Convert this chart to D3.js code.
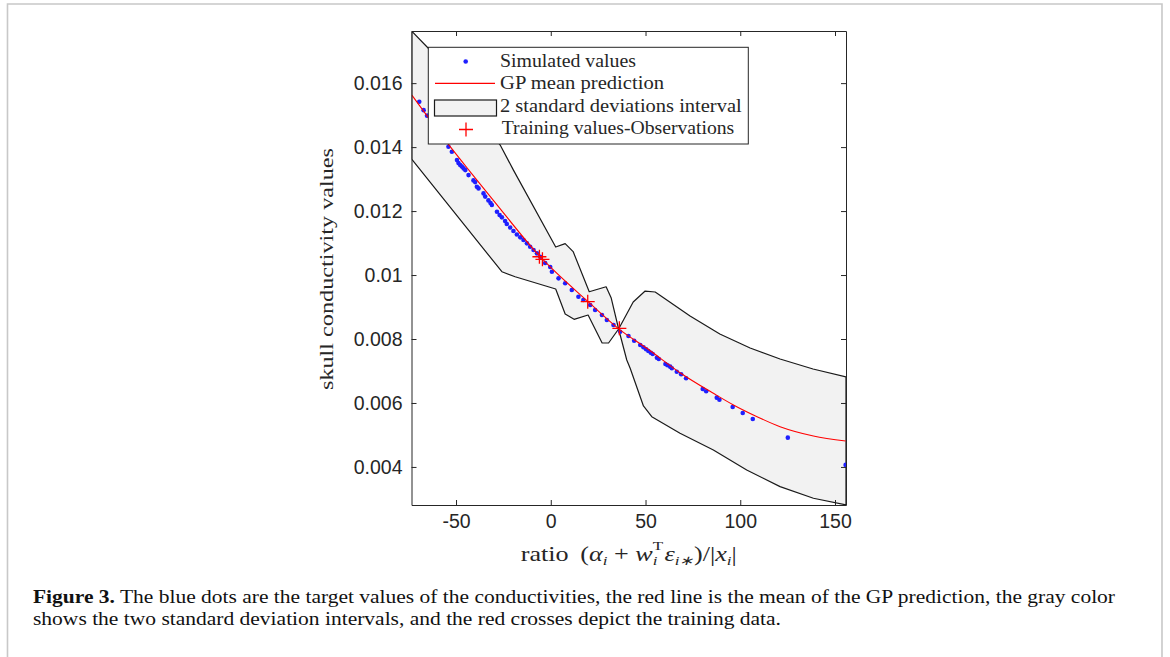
<!DOCTYPE html>
<html>
<head>
<meta charset="utf-8">
<script src="https://cdn.jsdelivr.net/npm/d3@7"></script>
<style>
  body { margin: 0; background: #fff; }
  svg { display: block; }
</style>
</head>
<body>
<div id="chart"></div>
<script>
// axis limits and ticks
const xLimits = [-73.5, 155.8];
const yLimits = [0.00281, 0.01763];
const xTicks = [-50, 0, 50, 100, 150];
const yTicks = [0.004, 0.006, 0.008, 0.01, 0.012, 0.014, 0.016];

// simulated values (blue dots) [ratio, conductivity]
const simulated = [
  [-69.4, 0.015416], [-67.1, 0.015156], [-65.3, 0.014984], [-54.0, 0.014009], [-52.2, 0.013853],
  [-49.5, 0.013594], [-48.7, 0.0135], [-47.8, 0.013438], [-46.9, 0.013391], [-46.0, 0.013334],
  [-45.1, 0.013281], [-43.4, 0.013125], [-40.8, 0.012959], [-39.9, 0.012906], [-39.0, 0.012759],
  [-38.1, 0.012709], [-35.5, 0.012553], [-34.6, 0.012453], [-32.9, 0.012334], [-31.8, 0.01225],
  [-31.1, 0.012188], [-28.4, 0.011978], [-27.0, 0.011875], [-25.8, 0.011803], [-24.1, 0.011688],
  [-23.2, 0.011594], [-21.4, 0.011484], [-19.7, 0.011375], [-17.9, 0.011266], [-16.1, 0.011178],
  [-14.4, 0.011094], [-12.6, 0.010991], [-10.9, 0.010884], [-9.1, 0.010781], [-7.3, 0.010678],
  [-5.6, 0.010572], [-2.95, 0.010375], [-0.3, 0.01025], [0.6, 0.010103], [4.1, 0.009897],
  [7.6, 0.009741], [11.1, 0.009531], [14.6, 0.009322], [17.2, 0.009219], [20.8, 0.009063],
  [23.4, 0.008906], [27.0, 0.00875], [29.6, 0.008594], [33.1, 0.008438], [36.6, 0.008229],
  [41.0, 0.008094], [44.0, 0.007947], [47.2, 0.007813], [48.9, 0.00774], [50.3, 0.007678],
  [51.5, 0.007625], [52.8, 0.007572], [53.8, 0.007531], [56.0, 0.007416], [57.0, 0.007375],
  [60.5, 0.007219], [61.6, 0.007178], [63.0, 0.007135], [63.9, 0.007084], [66.5, 0.006978],
  [68.8, 0.006897], [71.4, 0.006772], [80.2, 0.006438], [82.0, 0.006366], [87.6, 0.006166],
  [89.0, 0.006103], [96.0, 0.005875], [101.3, 0.005688], [106.6, 0.0055], [125.1, 0.004916],
  [155.6, 0.004063]
];

// GP mean prediction (red line)
const gpMean = [
  [-73.3, 0.015625], [-54.1, 0.014094], [-42.5, 0.013228], [-30.4, 0.012344], [-5.6, 0.010572],
  [19.7, 0.009166], [36.2, 0.008303], [50.7, 0.007709], [68.2, 0.006947], [85.8, 0.006303],
  [96.4, 0.005938], [106.9, 0.005625], [121.0, 0.005259], [138.6, 0.004969], [155.6, 0.004813]
];

// 2 standard deviation interval bounds
const upperBound = [
  [-73.4, 0.017625], [-64.5, 0.017084], [-45.1, 0.015594], [-26.7, 0.014063], [-19.7, 0.013281],
  [2.6, 0.010875], [7.6, 0.010984], [11.8, 0.010734], [20.3, 0.009478], [29.2, 0.009634],
  [31.9, 0.009281], [35.8, 0.008313], [43.5, 0.009156], [49.8, 0.0095], [55.1, 0.009469],
  [73.5, 0.008719], [89.2, 0.008156], [105.2, 0.007719], [121.0, 0.007375], [138.4, 0.007063],
  [155.8, 0.006813]
];
const lowerBound = [
  [-73.4, 0.013625], [-25.8, 0.010103], [-18.8, 0.009947], [2.6, 0.009563], [7.6, 0.008781],
  [12.3, 0.008616], [19.7, 0.00875], [27.1, 0.007875], [30.5, 0.007875], [35.8, 0.008313],
  [40.1, 0.007344], [41.9, 0.007084], [48.9, 0.005906], [53.3, 0.005572], [68.2, 0.005053],
  [85.8, 0.004531], [103.4, 0.003906], [121.0, 0.003384], [138.6, 0.003022], [155.8, 0.002813]
];

// training observations (red crosses)
const training = [[-6.0, 0.010572], [-4.4, 0.01049], [19.5, 0.009166], [36.2, 0.008334]];

const legendLabels = ["Simulated values", "GP mean prediction", "2 standard deviations interval", "Training values-Observations"];

const width = 1170, height = 657;
const serif = "'Liberation Serif', 'Times New Roman', serif";
const sans = "'Liberation Sans', Arial, sans-serif";
const axisColor = "#262626";
const dotColor = "#1f1fff";
const redColor = "#ff0000";

const svg = d3.select("#chart").append("svg")
  .attr("width", width)
  .attr("height", height);

svg.append("rect").attr("width", width).attr("height", height).attr("fill", "#fff");

// page frame
svg.append("path")
  .attr("d", "M7.5,700 L7.5,4 L1162,4 L1162,700")
  .attr("fill", "none")
  .attr("stroke", "#c8c8c8")
  .attr("stroke-width", 1.6);

const plot = { left: 411.5, right: 846, top: 31, bottom: 505 };

const x = d3.scaleLinear().domain(xLimits).range([plot.left, plot.right]);
const y = d3.scaleLinear().domain(yLimits).range([plot.bottom, plot.top]);

svg.append("clipPath").attr("id", "clip")
  .append("rect")
  .attr("x", plot.left).attr("y", plot.top)
  .attr("width", plot.right - plot.left).attr("height", plot.bottom - plot.top);

const g = svg.append("g").attr("clip-path", "url(#clip)");

// band
const bandPoly = upperBound.concat(lowerBound.slice().reverse());
g.append("path")
  .attr("d", d3.line().x(d => x(d[0])).y(d => y(d[1]))(bandPoly) + "Z")
  .attr("fill", "#f2f2f2")
  .attr("stroke", "#1a1a1a")
  .attr("stroke-width", 1.2)
  .attr("stroke-linejoin", "round");

// simulated dots
g.append("g").selectAll("circle")
  .data(simulated)
  .join("circle")
  .attr("cx", d => x(d[0]))
  .attr("cy", d => y(d[1]))
  .attr("r", 2.3)
  .attr("fill", dotColor);

// mean line
g.append("path")
  .attr("d", d3.line().x(d => x(d[0])).y(d => y(d[1])).curve(d3.curveMonotoneX)(gpMean))
  .attr("fill", "none")
  .attr("stroke", redColor)
  .attr("stroke-width", 1.1);

// training crosses
const crossPath = (cx, cy, s) => `M${cx - s},${cy}H${cx + s}M${cx},${cy - s}V${cy + s}`;
g.append("g").selectAll("path")
  .data(training)
  .join("path")
  .attr("d", d => crossPath(x(d[0]), y(d[1]), 7))
  .attr("stroke", redColor)
  .attr("stroke-width", 1.3)
  .attr("fill", "none");

// axes (ticks inside, mirrored on top/right)
function styleAxis(sel) {
  sel.selectAll("path.domain").attr("stroke", axisColor).attr("stroke-width", 1);
  sel.selectAll(".tick line").attr("stroke", axisColor);
  sel.selectAll("text").attr("font-family", sans).attr("font-size", 19.5).attr("fill", axisColor);
}

svg.append("g")
  .attr("transform", `translate(0,${plot.bottom})`)
  .call(d3.axisBottom(x).tickValues(xTicks).tickSizeInner(-5).tickSizeOuter(0).tickPadding(9).tickFormat(d => d))
  .call(styleAxis);

svg.append("g")
  .attr("transform", `translate(0,${plot.top})`)
  .call(d3.axisTop(x).tickValues(xTicks).tickSizeInner(-5).tickSizeOuter(0).tickFormat(""))
  .call(styleAxis);

svg.append("g")
  .attr("transform", `translate(${plot.left},0)`)
  .call(d3.axisLeft(y).tickValues(yTicks).tickSizeInner(-5).tickSizeOuter(0).tickPadding(9).tickFormat(d => String(+d.toFixed(3))))
  .call(styleAxis);

svg.append("g")
  .attr("transform", `translate(${plot.right},0)`)
  .call(d3.axisRight(y).tickValues(yTicks).tickSizeInner(-5).tickSizeOuter(0).tickFormat(""))
  .call(styleAxis);

// y label
svg.append("text")
  .attr("transform", "translate(333,269) rotate(-90)")
  .attr("text-anchor", "middle")
  .attr("font-family", serif)
  .attr("font-size", 19)
  .attr("fill", axisColor)
  .attr("textLength", 242)
  .attr("lengthAdjust", "spacingAndGlyphs")
  .text("skull conductivity values");

// x label: one text element with tspans for the math
const mainSize = 20, scriptSize = 13;
const probe = svg.append("text").attr("font-family", serif).attr("font-size", scriptSize).text("T");
const supW = probe.node().getComputedTextLength();
probe.text("i").attr("font-style", "italic");
const subW = probe.node().getComputedTextLength();
probe.remove();

const xLabelParts = [
  { t: "ratio\u00a0\u2009(", it: false, dy: 0 },
  { t: "\u03b1", it: true, dy: 0 },
  { t: "i", it: true, sub: true, dy: 4 },
  { t: "\u00a0+\u00a0", it: false, dy: -4 },
  { t: "w", it: true, dy: 0 },
  { t: "T", it: false, sup: true, dy: -10.5 },
  { t: "i", it: true, sub: true, dy: 15, dx: -supW },
  { t: "\u03b5", it: true, dy: -4.5, dx: Math.max(0, supW - subW) + 1 },
  { t: "i\u2217", it: true, sub: true, dy: 4 },
  { t: ")/|", it: false, dy: -4 },
  { t: "x", it: true, dy: 0 },
  { t: "i", it: true, sub: true, dy: 4 },
  { t: "|", it: false, dy: -4 }
];
const xl = svg.append("text")
  .attr("x", 0).attr("y", 561)
  .attr("font-family", serif)
  .attr("font-size", mainSize)
  .attr("fill", axisColor);
xLabelParts.forEach(p => {
  xl.append("tspan")
    .attr("dy", p.dy)
    .attr("dx", p.dx || 0)
    .attr("font-size", (p.sub || p.sup) ? scriptSize : mainSize)
    .attr("font-style", p.it ? "italic" : "normal")
    .text(p.t);
});
const xlW = xl.node().getBBox().width;
const xlScale = 216 / xlW;
xl.attr("transform", `translate(${(plot.left + plot.right) / 2 - 108},0) scale(${xlScale},1)`);

// legend
const lg = svg.append("g");
lg.append("rect")
  .attr("x", 428.3).attr("y", 47.3)
  .attr("width", 320).attr("height", 96.7)
  .attr("fill", "#fff")
  .attr("stroke", axisColor)
  .attr("stroke-width", 1);

const rowY = [61.5, 83.3, 108, 129.5];
const labelW = [136, 164, 241.7, 232.6];
lg.append("circle").attr("cx", 465.7).attr("cy", rowY[0]).attr("r", 2.3).attr("fill", dotColor);
lg.append("path")
  .attr("d", `M435,${rowY[1]}H495`)
  .attr("fill", "none")
  .style("stroke", redColor)
  .style("stroke-width", 1.3);
lg.append("rect").attr("x", 434.5).attr("y", 100).attr("width", 62).attr("height", 16)
  .attr("fill", "#f2f2f2").attr("stroke", "#1a1a1a").attr("stroke-width", 1.2);
lg.append("path").attr("d", crossPath(466, rowY[3], 7))
  .attr("fill", "none")
  .style("stroke", redColor)
  .style("stroke-width", 1.3);

lg.selectAll("text.lab")
  .data(legendLabels)
  .join("text")
  .attr("class", "lab")
  .attr("x", (d, i) => i === 3 ? 501.7 : 500)
  .attr("y", (d, i) => [66.7, 89.3, 111.8, 134.3][i])
  .attr("font-family", serif)
  .attr("font-size", 19)
  .attr("fill", axisColor)
  .attr("textLength", (d, i) => labelW[i])
  .attr("lengthAdjust", "spacingAndGlyphs")
  .text(d => d);

// caption
const cap1 = svg.append("text")
  .attr("x", 33).attr("y", 603)
  .attr("font-family", serif).attr("font-size", 19).attr("fill", "#111")
  .attr("textLength", 1082).attr("lengthAdjust", "spacingAndGlyphs");
cap1.append("tspan").attr("font-weight", "bold").text("Figure 3.");
cap1.append("tspan").text(" The blue dots are the target values of the conductivities, the red line is the mean of the GP prediction, the gray color");

svg.append("text")
  .attr("x", 33).attr("y", 625)
  .attr("font-family", serif).attr("font-size", 19).attr("fill", "#111")
  .attr("textLength", 748).attr("lengthAdjust", "spacingAndGlyphs")
  .text("shows the two standard deviation intervals, and the red crosses depict the training data.");
</script>
</body>
</html>
